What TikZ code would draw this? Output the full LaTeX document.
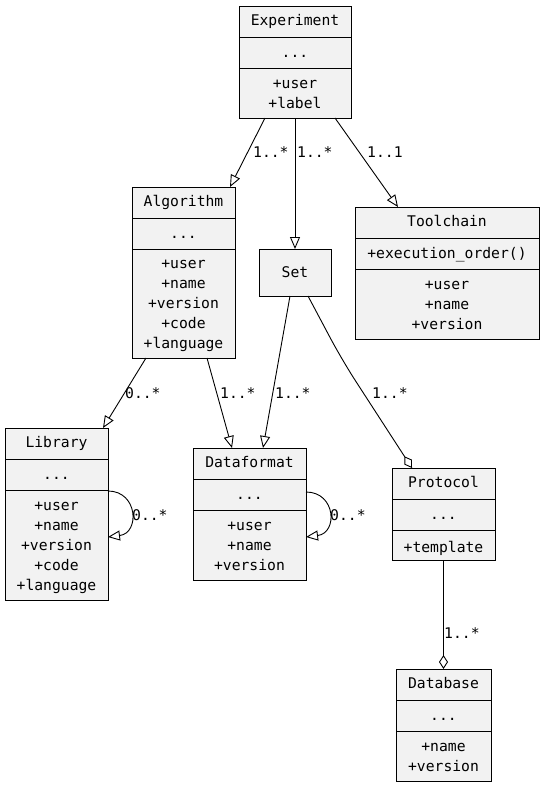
\documentclass[tikz,border=0pt]{standalone}
\usepackage{fontspec}
\setmonofont{DejaVu Sans Mono}
\usetikzlibrary{arrows.meta}
\definecolor{boxfill}{HTML}{F2F2F2}
\newcommand\umlfont{\ttfamily\fontsize{14.7}{20}\selectfont}
\tikzset{
  cls/.style={draw=black, fill=boxfill, line width=1pt, inner sep=0pt, outer sep=0pt},
  div/.style={line width=1pt},
  tx/.style={font=\umlfont, inner sep=0pt, align=center,
    execute at begin node=\strut, execute at end node=\strut},
  lbl/.style={font=\umlfont, inner sep=0pt, anchor=west,
    execute at begin node=\strut},
  conn/.style={line width=0.9pt},
  gen/.style={conn, -{Triangle[open,length=12pt,width=10pt]}},
  agg/.style={conn, -{Diamond[open,length=14pt,width=9pt]}},
}
\begin{document}
\begin{tikzpicture}[x=1pt,y=-1pt]
\useasboundingbox (0,0) rectangle (545,788);

% ---------- classes ----------
\node[cls, minimum width=112, minimum height=112] (exp) at (295,62) {};
\node[cls, minimum width=103, minimum height=171] (alg) at (183.5,272.5) {};
\node[cls, minimum width=72, minimum height=47] (set) at (295,272.5) {};
\node[cls, minimum width=184, minimum height=132] (tool) at (447,273) {};
\node[cls, minimum width=103, minimum height=172] (lib) at (56.5,514) {};
\node[cls, minimum width=113, minimum height=132] (data) at (249.5,514) {};
\node[cls, minimum width=103, minimum height=92] (prot) at (443.5,514) {};
\node[cls, minimum width=95, minimum height=112] (db) at (443.5,725) {};

% dividers
\foreach \n in {exp,alg,tool,lib,data,prot,db}{
  \draw[div] ([yshift=-31]\n.north west) -- ([yshift=-31]\n.north east);
  \draw[div] ([yshift=-62]\n.north west) -- ([yshift=-62]\n.north east);
}

% texts
\node[tx] (exp-h) at ([yshift=-15.5]exp.north) {Experiment};
\node[tx] (exp-m) at ([yshift=-47.5]exp.north) {...};
\node[tx] (exp-a) at (295,97) {+user\\+label};

\node[tx] (alg-h) at ([yshift=-15.5]alg.north) {Algorithm};
\node[tx] (alg-m) at ([yshift=-47.5]alg.north) {...};
\node[tx] (alg-a) at (183.5,307) {+user\\+name\\+version\\+code\\+language};

\node[tx] (set-h) at ([yshift=-1]set.center) {Set};

\node[tx] (tool-h) at ([yshift=-15.5]tool.north) {Toolchain};
\node[tx] (tool-m) at ([yshift=-47]tool.north) {+execution\_order()};
\node[tx] (tool-a) at (447,308) {+user\\+name\\+version};

\node[tx] (lib-h) at ([yshift=-15.5]lib.north) {Library};
\node[tx] (lib-m) at ([yshift=-47.5]lib.north) {...};
\node[tx] (lib-a) at (56.5,549) {+user\\+name\\+version\\+code\\+language};

\node[tx] (data-h) at ([yshift=-15.5]data.north) {Dataformat};
\node[tx] (data-m) at ([yshift=-47.5]data.north) {...};
\node[tx] (data-a) at (249.5,549) {+user\\+name\\+version};

\node[tx] (prot-h) at ([yshift=-15.5]prot.north) {Protocol};
\node[tx] (prot-m) at ([yshift=-47.5]prot.north) {...};
\node[tx] (prot-a) at (443.5,548) {+template};

\node[tx] (db-h) at ([yshift=-15.5]db.north) {Database};
\node[tx] (db-m) at ([yshift=-47.5]db.north) {...};
\node[tx] (db-a) at (443.5,760) {+name\\+version};

% ---------- connectors ----------
\draw[gen] ([xshift=-30]exp.south) -- ([xshift=46.5]alg.north);
\draw[gen] (exp.south) -- (set.north);
\draw[gen] ([xshift=40]exp.south) -- ([xshift=-49]tool.north);
\draw[gen] ([xshift=-37.5]alg.south) -- ([xshift=46.5]lib.north);
\draw[gen] ([xshift=23.5]alg.south) -- ([xshift=-17.5]data.north);
\draw[gen] ([xshift=-5]set.south) -- ([xshift=13.5]data.north);
\coordinate (bend) at (342,360);
\draw[agg, rounded corners=25] ([xshift=13]set.south) -- (bend) -- ([xshift=-31.5]prot.north);
\draw[agg] (prot.south) -- (db.north);
\draw[gen] ([yshift=23]lib.east) .. controls +(30,0) and +(32,-4) .. ([yshift=-23]lib.east);
\draw[gen] ([yshift=22]data.east) .. controls +(30,0) and +(32,-4) .. ([yshift=-23]data.east);

% ---------- multiplicities ----------
\node[lbl] (m1) at (253,153) {1..*};
\node[lbl] (m2) at (297,153) {1..*};
\node[lbl] (m3) at (367,153) {1..1};
\node[lbl] (m4) at (125,394) {0..*};
\node[lbl] (m5) at (220,394) {1..*};
\node[lbl] (m6) at (275,394) {1..*};
\node[lbl] (m7) at (372,394) {1..*};
\node[lbl] (m8) at (444,634) {1..*};
\node[lbl] (m9) at (132,516) {0..*};
\node[lbl] (m10) at (330,516) {0..*};
\end{tikzpicture}
\end{document}
